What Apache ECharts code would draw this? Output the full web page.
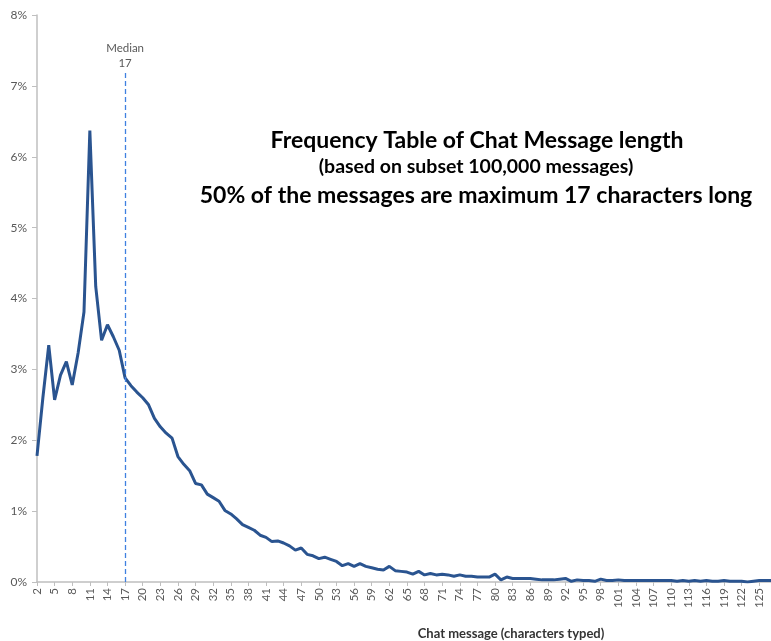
<!DOCTYPE html>
<html>
<head>
<meta charset="utf-8">
<script src="https://cdn.jsdelivr.net/npm/echarts@6/dist/echarts.min.js"></script>
<style>
html,body{margin:0;padding:0;background:#fff;}
#chart{width:771px;height:641px;}
</style>
</head>
<body>
<div id="chart"></div>
<script>
// Categories: chat message length in characters (2..127)
var categories = [];
for (var c = 2; c <= 127; c++) categories.push(String(c));

// Share of messages (%) per length
var frequency = [
  1.78, 2.60, 3.34, 2.57, 2.92, 3.11, 2.78, 3.23, 3.81, 6.37,
  4.17, 3.41, 3.63, 3.46, 3.27, 2.88, 2.77, 2.68, 2.60, 2.50,
  2.31, 2.19, 2.10, 2.03, 1.77, 1.66, 1.57, 1.39, 1.37, 1.24,
  1.19, 1.14, 1.01, 0.96, 0.89, 0.81, 0.77, 0.73, 0.66, 0.63,
  0.57, 0.58, 0.55, 0.51, 0.45, 0.48, 0.39, 0.37, 0.33, 0.35,
  0.32, 0.29, 0.23, 0.26, 0.22, 0.26, 0.22, 0.20, 0.18, 0.17,
  0.22, 0.16, 0.15, 0.14, 0.11, 0.15, 0.10, 0.12, 0.10, 0.11,
  0.10, 0.08, 0.10, 0.08, 0.08, 0.07, 0.07, 0.07, 0.11, 0.03,
  0.07, 0.05, 0.05, 0.05, 0.05, 0.04, 0.03, 0.03, 0.03, 0.04,
  0.05, 0.01, 0.03, 0.02, 0.02, 0.01, 0.04, 0.02, 0.02, 0.03,
  0.02, 0.02, 0.02, 0.02, 0.02, 0.02, 0.02, 0.02, 0.02, 0.01,
  0.02, 0.01, 0.02, 0.01, 0.02, 0.01, 0.01, 0.02, 0.01, 0.01,
  0.01, 0.00, 0.01, 0.02, 0.02, 0.02
];

var yTicks = [0, 1, 2, 3, 4, 5, 6, 7, 8];
var medianCategory = '17';
var medianLineTop = 7.18;
var medianLabel = 'Median\n17';

var titleLines = [
  'Frequency Table of Chat Message length',
  '(based on subset 100,000 messages)',
  '50% of the messages are maximum 17 characters long'
];
var xAxisTitle = 'Chat message (characters typed)';

var FONT = 'Lato, "Liberation Sans", sans-serif';
var chart = echarts.init(document.getElementById('chart'));
chart.setOption({
  backgroundColor: '#ffffff',
  animation: false,
  grid: { left: 37, right: 0, top: 15, bottom: 59, containLabel: false },
  xAxis: {
    type: 'category',
    data: categories,
    boundaryGap: false,
    axisLine: { lineStyle: { color: '#bfbfbf', width: 1.5 } },
    axisTick: { show: true, interval: 2, length: 4, lineStyle: { color: '#bfbfbf' } },
    axisLabel: { interval: 2, rotate: 90, color: '#595959', fontSize: 11.5, fontFamily: FONT, margin: 6 },
    splitLine: { show: false }
  },
  yAxis: {
    type: 'value',
    min: yTicks[0],
    max: yTicks[yTicks.length - 1],
    interval: 1,
    axisLine: { show: true, lineStyle: { color: '#bfbfbf', width: 1.5 } },
    axisTick: { show: true, length: 5, lineStyle: { color: '#bfbfbf' } },
    axisLabel: { formatter: '{value}%', color: '#595959', fontSize: 12, fontFamily: FONT, margin: 10 },
    splitLine: { show: false }
  },
  series: [{
    type: 'line',
    data: frequency,
    symbol: 'none',
    lineStyle: { color: '#2a5490', width: 3 },
    z: 3,
    markLine: {
      silent: true,
      symbol: 'none',
      lineStyle: { type: [5, 3], color: '#3f80e0', width: 1.3 },
      label: {
        show: true,
        position: 'start',
        formatter: medianLabel,
        color: '#595959',
        fontSize: 11.5,
        fontFamily: FONT,
        lineHeight: 15,
        distance: 2
      },
      data: [[
        { coord: [medianCategory, medianLineTop] },
        { coord: [medianCategory, 0] }
      ]]
    }
  }],
  graphic: [
    { type: 'text', x: 477, y: 141, style: { text: titleLines[0], textAlign: 'center', textVerticalAlign: 'middle', font: 'bold 23px ' + FONT, fill: '#000' } },
    { type: 'text', x: 476, y: 167, style: { text: titleLines[1], textAlign: 'center', textVerticalAlign: 'middle', font: 'bold 19.5px ' + FONT, fill: '#000' } },
    { type: 'text', x: 476, y: 196, style: { text: titleLines[2], textAlign: 'center', textVerticalAlign: 'middle', font: 'bold 23px ' + FONT, fill: '#000' } },
    { type: 'text', x: 511, y: 634, style: { text: xAxisTitle, textAlign: 'center', textVerticalAlign: 'middle', font: 'bold 13px ' + FONT, fill: '#333' } }
  ]
});
</script>
</body>
</html>
